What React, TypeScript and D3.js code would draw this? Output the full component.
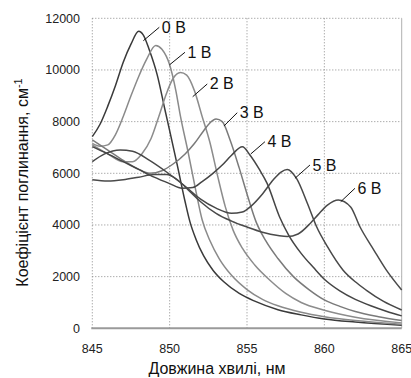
import * as d3 from "d3";

// absorption spectra, wavelength (nm) vs coefficient (cm^-1), one array per bias voltage
const v0: [number, number][] = [
  [845, 7420], [845.5, 7900], [846, 8600], [846.5, 9400], [847, 10300], [847.5, 11000],
  [848, 11500], [848.3, 11350], [848.7, 10750], [849.2, 9800], [849.7, 8450], [850, 7650],
  [850.5, 6300], [851, 4900], [851.3, 4150], [851.7, 3450], [852.2, 2800], [852.8, 2250],
  [853.5, 1800], [854.5, 1350], [855.5, 1050], [857, 720], [858.5, 520], [860, 360],
  [862, 240], [865, 120],
];
const v1: [number, number][] = [
  [845, 7160], [845.5, 7050], [846, 7100], [846.5, 7500], [847, 8200], [847.5, 9000],
  [848, 9750], [848.5, 10400], [849.1, 10950], [849.5, 10800], [850, 10200], [850.4, 9200],
  [850.7, 8200], [851.2, 6800], [851.7, 5300], [852.1, 4200], [852.6, 3400], [853.2, 2700],
  [854, 2050], [855, 1500], [856, 1120], [857, 870], [858.5, 620], [860, 450], [862, 300],
  [865, 160],
];
const v2: [number, number][] = [
  [845, 7100], [846, 6750], [847, 6450], [847.6, 6450], [848.2, 6750], [848.8, 7350],
  [849.3, 8200], [849.8, 9100], [850.2, 9650], [850.7, 9900], [851.1, 9800], [851.6, 9200],
  [852.1, 8200], [852.6, 7200], [853.1, 5900], [853.6, 4700], [854.1, 3800], [854.7, 3100],
  [855.5, 2450], [856.5, 1850], [857.5, 1350], [858.5, 1000], [860, 700], [862, 430],
  [865, 210],
];
const v3: [number, number][] = [
  [845, 7290], [846, 6900], [847, 6500], [848, 6150], [848.7, 6000], [849.5, 6100],
  [850.2, 6350], [851, 6750], [851.6, 7150], [852.2, 7650], [852.6, 7950], [853, 8100],
  [853.4, 8000], [853.9, 7300], [854.5, 6200], [855, 5200], [855.6, 4100], [856.2, 3400],
  [857, 2700], [858, 2000], [859, 1500], [860, 1100], [861, 850], [862, 650], [863.5, 450],
  [865, 300],
];
const v4: [number, number][] = [
  [845, 7030], [846, 6750], [847, 6450], [848, 6150], [849, 5850], [850, 5600],
  [850.8, 5420], [851.5, 5450], [852.1, 5680], [852.8, 6000], [853.4, 6320], [854, 6700],
  [854.7, 7030], [855.2, 6700], [855.8, 6150], [856.3, 5610], [857.1, 4320], [857.7, 3600],
  [858.5, 2900], [859.3, 2350], [860, 1900], [861, 1450], [862, 1120], [863, 870],
  [864, 660], [865, 480],
];
const v5: [number, number][] = [
  [845, 6450], [845.8, 6750], [846.8, 6900], [847.6, 6850], [848.7, 6500], [849.8, 6050],
  [851, 5500], [852, 5000], [853, 4650], [854, 4450], [854.7, 4500], [855.3, 4750],
  [856, 5200], [856.7, 5750], [857.2, 6050], [857.6, 6150], [858.2, 5800], [858.9, 4840],
  [859.5, 3930], [860.2, 3160], [861.2, 2260], [862, 1800], [862.7, 1480], [863.8, 1050],
  [865, 710],
];
const v6: [number, number][] = [
  [845, 5750], [846, 5700], [847, 5750], [848, 5850], [849, 5950], [849.8, 5950],
  [850.5, 5750], [851.3, 5300], [852, 4900], [853, 4450], [854, 4150], [855, 3920],
  [856, 3720], [857, 3590], [857.6, 3550], [858.3, 3650], [859.1, 4070], [859.6, 4400],
  [860.2, 4770], [860.9, 4970], [861.7, 4700], [862.3, 3930], [863.2, 3030], [864, 2260],
  [865, 1480],
];

const seriesNames = ["0 В", "1 В", "2 В", "3 В", "4 В", "5 В", "6 В"];
const seriesData = [v0, v1, v2, v3, v4, v5, v6];
const seriesColors = ["#3a3a3a", "#8a8a8a", "#8c8c8c", "#7a7a7a", "#454545", "#484848", "#4a4a4a"];

// leader lines: from a point on the curve to the label
const labelFrom: [number, number][] = [
  [848.3, 11133], [849.98, 10192], [851.49, 8965], [853.51, 7831], [855.24, 6747], [858.1, 5806], [861.06, 4901],
];
const labelTo: [number, number][] = [
  [849.33, 11652], [850.99, 10684], [852.43, 9457], [854.37, 8346], [856.16, 7223], [859.07, 6321], [861.98, 5419],
];

const xTicks = [845, 850, 855, 860, 865];
const yTicks = [0, 2000, 4000, 6000, 8000, 10000, 12000];

const W = 411;
const H = 378;
const margin = { top: 18.3, right: 9.3, bottom: 49.7, left: 92.3 };
const font = "'Liberation Sans', Arial, sans-serif";

export default function App() {
  const x = d3.scaleLinear().domain([845, 865]).range([margin.left, W - margin.right]);
  const y = d3.scaleLinear().domain([0, 12000]).range([H - margin.bottom, margin.top]);

  const line = d3
    .line<[number, number]>()
    .x((d) => x(d[0]))
    .y((d) => y(d[1]))
    .curve(d3.curveMonotoneX);

  const [x0, x1] = x.range();
  const [y0, y1] = y.range();

  return (
    <svg
      width={W}
      height={H}
      style={{ position: "absolute", left: 0, top: 0, background: "#fff" }}
      fontFamily={font}
    >
      {/* grid */}
      {yTicks.slice(1).map((t) => (
        <line key={"gy" + t} x1={x0} x2={x1} y1={y(t)} y2={y(t)} stroke="#8a8a8a" strokeWidth={1} strokeDasharray="1,2" />
      ))}
      {xTicks.slice(0, -1).map((t) => (
        <line key={"gx" + t} x1={x(t)} x2={x(t)} y1={y1} y2={y0} stroke="#8a8a8a" strokeWidth={1} strokeDasharray="1,2" />
      ))}
      <line x1={x1} x2={x1} y1={y1} y2={y0} stroke="#b0b0b0" strokeWidth={1} />
      <line x1={x0 - 1} x2={x1} y1={y0} y2={y0} stroke="#9a9a9a" strokeWidth={2} />

      {/* curves */}
      {seriesData.map((s, i) => (
        <path key={"s" + i} d={line(s) || ""} fill="none" stroke={seriesColors[i]} strokeWidth={1.5} />
      ))}

      {/* labels */}
      {seriesNames.map((n, i) => (
        <g key={"l" + i}>
          <line
            x1={x(labelFrom[i][0])}
            y1={y(labelFrom[i][1])}
            x2={x(labelTo[i][0])}
            y2={y(labelTo[i][1])}
            stroke="#111"
            strokeWidth={1}
          />
          <text x={x(labelTo[i][0]) + 2.5} y={y(labelTo[i][1]) + 5.5} fontSize={16} fill="#111">
            {n}
          </text>
        </g>
      ))}

      {/* tick labels */}
      {yTicks.map((t) => (
        <text key={"ty" + t} x={80} y={y(t)} dy="0.35em" textAnchor="end" fontSize={12.5} fill="#222">
          {t}
        </text>
      ))}
      {xTicks.map((t) => (
        <text key={"tx" + t} x={x(t)} y={352.5} textAnchor="middle" fontSize={12.5} fill="#222">
          {t}
        </text>
      ))}

      {/* axis titles */}
      <text x={217} y={374} textAnchor="middle" fontSize={16} fill="#111">
        Довжина хвилі, нм
      </text>
      <text transform={`translate(27.5,${182.5}) rotate(-90)`} textAnchor="middle" fontSize={16} fill="#111">
        Коефіцієнт поглинання, см<tspan dy={-6} fontSize={11}>-1</tspan>
      </text>
    </svg>
  );
}
